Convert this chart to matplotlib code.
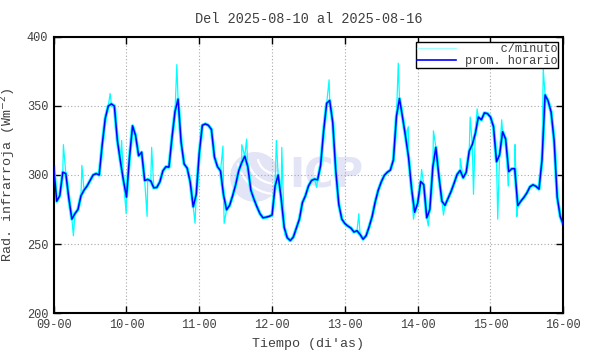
"""Radiacion infrarroja: serie por minuto y promedio horario, 2025-08-09 a 2025-08-16."""

import matplotlib

matplotlib.use("Agg")
import matplotlib.dates as mdates
import matplotlib.pyplot as plt
import numpy as np
import pandas as pd
from matplotlib.lines import Line2D
from matplotlib.patches import Arc, Ellipse

# promedio horario (W m-2), una lectura por hora desde 09-00 hasta 16-00
hourly_vals = [
    # dia 09
    306, 281, 285, 302, 301, 283, 268, 272, 275, 285, 289, 292,
    296, 300, 301, 300, 322, 341, 350, 351.5, 350, 325, 310, 296,
    # dia 10
    284, 313, 335.6, 328.6, 314, 316.5, 296, 296.8, 295.7, 290.7, 291, 295,
    303, 306, 305.7, 327, 346, 355, 324, 308, 305, 295, 277, 286,
    # dia 11
    316, 336, 337, 336, 333, 313, 306, 303, 285.5, 274.8, 278, 285,
    293, 303, 309, 313.6, 306, 289, 282.6, 277, 272, 269, 269.4, 270,
    # dia 12
    271, 292, 300, 283, 262, 254.5, 252.5, 255, 261.5, 268, 280, 285,
    292, 296, 297, 296.5, 307, 332, 352, 354, 338, 303, 278.7, 268,
    # dia 13
    264.8, 263, 261.5, 258.7, 259.6, 257, 253.5, 256, 262.5, 270, 280.5, 289,
    295, 299.7, 302, 303.6, 311, 342.5, 355.4, 342, 328, 312.7, 290, 273,
    # dia 14
    279.6, 295.3, 293, 269, 275, 306, 320, 299, 281, 278, 283, 288,
    294, 300.4, 303.3, 298, 302, 317.4, 322, 330, 342, 340, 345, 344.5,
    # dia 15
    342, 335, 309.6, 314.6, 331.4, 326, 302.4, 304.5, 304.6, 277.8, 281, 283.7,
    287, 291.4, 292.9, 291.8, 289.8, 311, 358, 353.7, 345.5, 324.6, 284, 270,
    # 16-00
    264,
]

# picos visibles de la serie por minuto: (horas desde 09-00, valor)
spike_hours = [
    3.2, 6.5, 9.3, 18.6, 22.4, 23.9, 30.8, 32.3, 40.6, 46.6,
    55.8, 56.2, 62.0, 63.6, 73.4, 75.2, 76.3, 86.7, 90.8, 100.6,
    113.6, 116.9, 118.6, 121.3, 123.5, 125.2, 128.5, 134.0, 137.3, 138.4,
    139.6, 146.4, 147.7, 149.9, 152.1, 152.7, 161.4,
]
spike_vals = [
    322, 256, 307, 359, 325, 272, 270, 320, 380, 265,
    321, 265, 322, 326, 325, 320, 256, 291, 369, 272,
    381, 335, 268, 304, 263, 332, 271, 312, 342, 286,
    348, 268, 340, 292, 322, 270, 377,
]

start = pd.Timestamp("2025-08-09 00:00")
hourly_t = pd.date_range(start, periods=len(hourly_vals), freq="h")
hourly = pd.Series(hourly_vals, index=hourly_t)

spikes = pd.Series(spike_vals, index=start + pd.to_timedelta(spike_hours, unit="h"))
minute = pd.concat([hourly, spikes]).sort_index()

CYAN = "#00FFFF"
BLUE = "#0000FF"
GRID = "#A8A8A8"
TEXT = "#404040"
WATERMARK = "#E4E4F7"

plt.rcParams["font.family"] = ["Liberation Mono", "DejaVu Sans Mono"]

fig = plt.figure(figsize=(5.9, 3.54), dpi=100)
ax = fig.add_axes([0.091, 0.1158, 0.8637, 0.7797])
aspect = 509.6 / 276.0  # ancho/alto del area de ejes en pixeles

# marca de agua ICP
ax.add_patch(Ellipse((0.395, 0.493), 0.098, 0.098 * aspect,
                     transform=ax.transAxes, color=WATERMARK, zorder=0, lw=0))
for r in (0.035, 0.055, 0.075):
    ax.add_patch(Arc((0.435, 0.57), r * 2, r * 2 * aspect, theta1=200, theta2=300,
                     transform=ax.transAxes, color="white", lw=1.6, zorder=0))
ax.text(0.462, 0.493, "ICP", transform=ax.transAxes, fontsize=29,
        fontweight="bold", family="DejaVu Sans", color=WATERMARK,
        ha="left", va="center", zorder=0)

ax.plot(hourly.index, hourly.values, color=CYAN, linewidth=2.4, zorder=2,
        solid_joinstyle="round")
ax.plot(minute.index, minute.values, color=CYAN, linewidth=0.9, zorder=2)
ax.plot(hourly.index, hourly.values, color=BLUE, linewidth=1.1, zorder=3)

ax.set_xlim(hourly_t[0], hourly_t[-1])
ax.set_ylim(200, 400)
ax.set_yticks(np.arange(200, 401, 50))
ax.xaxis.set_major_locator(mdates.DayLocator())
ax.xaxis.set_major_formatter(mdates.DateFormatter("%d-%H"))

ax.grid(True, color=GRID, linestyle=(0, (1, 2)), linewidth=0.8)
ax.tick_params(direction="in", length=5, width=1.0, top=True, right=True,
               labelsize=8.6, labelcolor=TEXT, pad=4)
for spine in ax.spines.values():
    spine.set_linewidth(1.5)

ax.set_title("Del 2025-08-10 al 2025-08-16", fontsize=9.8, color=TEXT, pad=10)
ax.set_xlabel("Tiempo (di'as)", fontsize=9.6, color=TEXT, labelpad=5)
ax.set_ylabel("Rad. infrarroja (Wm$^{-2}$)", fontsize=9.6, color=TEXT, labelpad=6)

handles = [
    Line2D([], [], color="#A0FFFF", linewidth=0.8),
    Line2D([], [], color=BLUE, linewidth=1.2),
]
leg = ax.legend(handles, ["     c/minuto", "prom. horario"], loc="upper right",
                fontsize=8.6, fancybox=False, framealpha=1, edgecolor="black",
                borderpad=0.1, labelspacing=0.0, handlelength=3.3,
                handletextpad=0.7, borderaxespad=0.4)
leg.get_frame().set_linewidth(1.0)
for t in leg.get_texts():
    t.set_color(TEXT)

fig.savefig("out.png", dpi=100)
